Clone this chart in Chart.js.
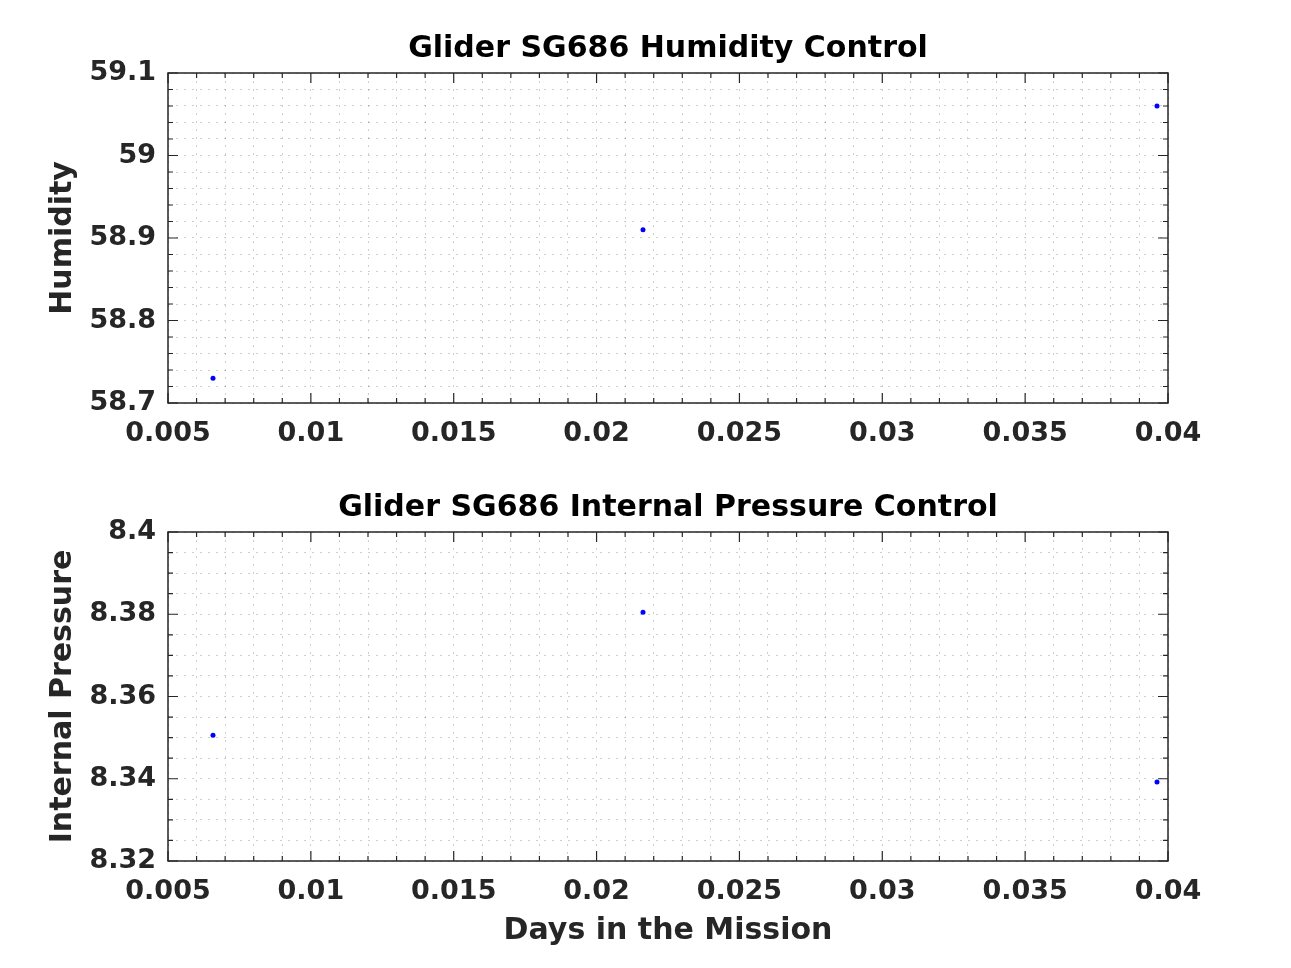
<!DOCTYPE html>
<html>
<head>
<meta charset="utf-8">
<script src="https://cdn.jsdelivr.net/npm/chart.js@4/dist/chart.umd.min.js"></script>
<style>
  html, body { margin: 0; padding: 0; background: #fff; }
  canvas { display: block; }
</style>
</head>
<body>
<canvas id="humidity-chart" width="1291" height="484"></canvas>
<canvas id="pressure-chart" width="1291" height="484"></canvas>
<script>
// Values
const daysInMission = [0.006575, 0.021625, 0.039615];
const humidity = [58.73, 58.91, 59.06];
const internalPressure = [8.3506, 8.3805, 8.3392];

// Labelled (major) ticks
const xMajorTicks = [0.005, 0.01, 0.015, 0.02, 0.025, 0.03, 0.035, 0.04];
const humidityMajorTicks = [58.7, 58.8, 58.9, 59, 59.1];
const pressureMajorTicks = [8.32, 8.34, 8.36, 8.38, 8.4];

const axisColor = '#262626';
Chart.defaults.font.family = '"DejaVu Sans", sans-serif';
Chart.defaults.font.weight = 'bold';

function isMajor(value, majors) {
    return majors.some(m => Math.abs(m - value) < 1e-9);
}

function majorLabel(majors) {
    return function (value) {
        const m = majors.find(t => Math.abs(t - value) < 1e-9);
        return m === undefined ? '' : String(m);
    };
}

// Box round the axes plus inward tick marks on all four sides
const boxPlugin = {
    id: 'matlabBox',
    afterDraw(chart, args, opts) {
        const { ctx, chartArea: a, scales } = chart;
        ctx.save();
        ctx.strokeStyle = axisColor;
        ctx.lineWidth = 1.5;
        ctx.strokeRect(a.left, a.top, a.right - a.left, a.bottom - a.top);
        ctx.lineWidth = 1.2;
        ctx.beginPath();
        scales.x.ticks.forEach(t => {
            const px = scales.x.getPixelForValue(t.value);
            const len = isMajor(t.value, opts.xMajors) ? 10 : 5;
            ctx.moveTo(px, a.bottom); ctx.lineTo(px, a.bottom - len);
            ctx.moveTo(px, a.top); ctx.lineTo(px, a.top + len);
        });
        scales.y.ticks.forEach(t => {
            const py = scales.y.getPixelForValue(t.value);
            const len = isMajor(t.value, opts.yMajors) ? 10 : 5;
            ctx.moveTo(a.left, py); ctx.lineTo(a.left + len, py);
            ctx.moveTo(a.right, py); ctx.lineTo(a.right - len, py);
        });
        ctx.stroke();
        ctx.restore();
    }
};

const gridStyle = {
    color: 'rgba(38, 38, 38, 0.22)',
    lineWidth: 1,
    drawTicks: false
};

function makeChart(id, cfg) {
    const ctx = document.getElementById(id).getContext('2d');
    return new Chart(ctx, {
        type: 'scatter',
        data: {
            datasets: [{
                data: daysInMission.map((d, i) => ({ x: d, y: cfg.values[i] })),
                backgroundColor: '#0000ff',
                borderWidth: 0,
                pointRadius: 2.5
            }]
        },
        options: {
            responsive: false,
            animation: false,
            devicePixelRatio: 1,
            layout: { padding: { left: 0, right: 123, top: 0, bottom: 0 } },
            plugins: {
                legend: { display: false },
                tooltip: { enabled: false },
                title: {
                    display: true,
                    text: cfg.title,
                    fullSize: false,
                    color: '#000',
                    font: { size: 30, weight: 'bold', lineHeight: 1.2 },
                    padding: cfg.titlePadding
                },
                matlabBox: { xMajors: xMajorTicks, yMajors: cfg.yMajors }
            },
            scales: {
                x: {
                    type: 'linear',
                    position: 'bottom',
                    min: 0.005,
                    max: 0.04,
                    afterFit: s => { s.height = cfg.xHeight; },
                    grid: gridStyle,
                    border: { display: false, dash: [2, 6] },
                    ticks: {
                        stepSize: 0.001,
                        autoSkip: false,
                        maxRotation: 0,
                        padding: 15,
                        color: axisColor,
                        font: { size: 27, weight: 'bold' },
                        callback: majorLabel(xMajorTicks)
                    },
                    title: {
                        display: !!cfg.xTitle,
                        text: cfg.xTitle || '',
                        color: axisColor,
                        font: { size: 30, weight: 'bold', lineHeight: 1.2 },
                        padding: { top: 0, bottom: 19 }
                    }
                },
                y: {
                    type: 'linear',
                    min: cfg.yMin,
                    max: cfg.yMax,
                    afterFit: s => { s.width = 168; },
                    grid: gridStyle,
                    border: { display: false, dash: [2, 6] },
                    ticks: {
                        stepSize: cfg.yStep,
                        autoSkip: false,
                        padding: 12,
                        color: axisColor,
                        font: { size: 27, weight: 'bold' },
                        callback: majorLabel(cfg.yMajors)
                    },
                    title: {
                        display: true,
                        text: cfg.yTitle,
                        color: axisColor,
                        font: { size: 30, weight: 'bold', lineHeight: 1.2 },
                        padding: { top: 45, bottom: 0 }
                    }
                }
            }
        },
        plugins: [boxPlugin]
    });
}

makeChart('humidity-chart', {
    title: 'Glider SG686 Humidity Control',
    titlePadding: { top: 31, bottom: 6 },
    values: humidity,
    yMin: 58.7, yMax: 59.1, yStep: 0.02,
    yMajors: humidityMajorTicks,
    yTitle: 'Humidity',
    xHeight: 81
});

makeChart('pressure-chart', {
    title: 'Glider SG686 Internal Pressure Control',
    titlePadding: { top: 6, bottom: 6 },
    values: internalPressure,
    yMin: 8.32, yMax: 8.4, yStep: 0.005,
    yMajors: pressureMajorTicks,
    yTitle: 'Internal Pressure',
    xTitle: 'Days in the Mission',
    xHeight: 107
});
</script>
</body>
</html>
